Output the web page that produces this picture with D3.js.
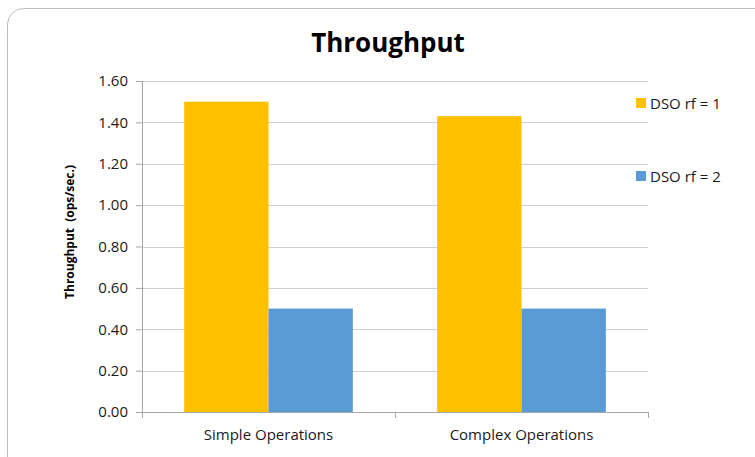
<!DOCTYPE html>
<html>
<head>
<meta charset="utf-8">
<script src="https://cdn.jsdelivr.net/npm/d3@7"></script>
<style>
  html, body { margin: 0; padding: 0; background: #fff; }
  svg { display: block; font-family: "Open Sans", "Liberation Sans", sans-serif; }
</style>
</head>
<body>
<svg id="chart" width="755" height="457"></svg>
<script>
// Throughput per operation type, two replication factors
const categories = ["Simple Operations", "Complex Operations"];
const seriesNames = ["DSO rf = 1", "DSO rf = 2"];
const rf1Values = [1.50, 1.43];
const rf2Values = [0.50, 0.50];
const yTicks = [0, 0.2, 0.4, 0.6, 0.8, 1.0, 1.2, 1.4, 1.6];
const colors = ["#FFC000", "#5B9BD5"];

const seriesValues = [rf1Values, rf2Values];

const svg = d3.select("#chart");
const margin = { left: 142, right: 107, top: 81, bottom: 45 };
const W = 755, H = 457;
const plotW = W - margin.left - margin.right;
const plotH = H - margin.top - margin.bottom;

// Chart frame with rounded corner
svg.append("rect")
  .attr("x", 7.5).attr("y", 8.5)
  .attr("width", 820).attr("height", 520)
  .attr("rx", 16).attr("ry", 16)
  .attr("fill", "#fff")
  .attr("stroke", "#bcbcbc")
  .attr("stroke-width", 1);

const g = svg.append("g").attr("transform", `translate(${margin.left},${margin.top})`);

const x0 = d3.scaleBand().domain(categories).range([0, plotW]).paddingInner(0).paddingOuter(0);
const x1 = d3.scaleBand().domain(seriesNames).range([0, x0.bandwidth()]).paddingInner(0).paddingOuter(0.5);
const y = d3.scaleLinear().domain([0, 1.6]).range([plotH, 0]);

// Gridlines
g.append("g")
  .selectAll("line")
  .data(yTicks.filter(d => d > 0))
  .join("line")
  .attr("x1", 0).attr("x2", plotW)
  .attr("y1", d => Math.round(y(d)) + 0.5).attr("y2", d => Math.round(y(d)) + 0.5)
  .attr("stroke", "#d0d0d0").attr("stroke-width", 1);

// Y axis
const yAxis = g.append("g")
  .call(d3.axisLeft(y).tickValues(yTicks).tickFormat(d3.format(".2f")).tickSize(6).tickPadding(8));
yAxis.select(".domain").attr("stroke", "#a6a6a6");
yAxis.selectAll(".tick line").attr("stroke", "#a6a6a6");
yAxis.selectAll(".tick text")
  .attr("font-size", 15).attr("fill", "#1a1a1a")
  .attr("font-family", "'Open Sans', 'Liberation Sans', sans-serif");

// Bars
const groups = g.append("g").selectAll("g")
  .data(categories)
  .join("g")
  .attr("transform", d => `translate(${x0(d)},0)`);

groups.selectAll("rect")
  .data((c, i) => seriesNames.map((s, j) => ({ s, v: seriesValues[j][i], j })))
  .join("rect")
  .attr("x", d => x1(d.s))
  .attr("y", d => y(d.v))
  .attr("width", x1.bandwidth())
  .attr("height", d => plotH - y(d.v))
  .attr("fill", d => colors[d.j]);

// X axis
const xAxis = g.append("g")
  .attr("transform", `translate(0,${plotH})`)
  .call(d3.axisBottom(x0).tickSize(0).tickPadding(17));
xAxis.select(".domain").attr("stroke", "#a6a6a6");
xAxis.selectAll(".tick text")
  .attr("font-size", 15).attr("fill", "#1a1a1a")
  .attr("font-family", "'Open Sans', 'Liberation Sans', sans-serif");
// Category separator ticks
xAxis.append("g").selectAll("line")
  .data([0, 1, 2])
  .join("line")
  .attr("x1", d => Math.round(d * x0.bandwidth()) + 0.5)
  .attr("x2", d => Math.round(d * x0.bandwidth()) + 0.5)
  .attr("y1", 0).attr("y2", 6)
  .attr("stroke", "#a6a6a6");

// Y axis title
svg.append("text")
  .attr("transform", `translate(74,${232}) rotate(-90)`)
  .attr("text-anchor", "middle")
  .attr("font-size", 12).attr("font-weight", "bold").attr("fill", "#000")
  .attr("xml:space", "preserve")
  .text("Throughput  (ops/sec.)");

// Chart title
svg.append("text")
  .attr("x", 388).attr("y", 52)
  .attr("text-anchor", "middle")
  .attr("font-size", 26).attr("font-weight", "bold").attr("fill", "#000")
  .text("Throughput");

// Legend
const legendY = [103, 176];
const legend = svg.append("g").selectAll("g")
  .data(seriesNames)
  .join("g")
  .attr("transform", (d, i) => `translate(636,${legendY[i]})`);
legend.append("rect")
  .attr("x", 0).attr("y", -5).attr("width", 10).attr("height", 10)
  .attr("fill", (d, i) => colors[i]);
legend.append("text")
  .attr("x", 14).attr("y", 5.5)
  .attr("font-size", 15).attr("fill", "#1a1a1a")
  .text(d => d);
</script>
</body>
</html>
